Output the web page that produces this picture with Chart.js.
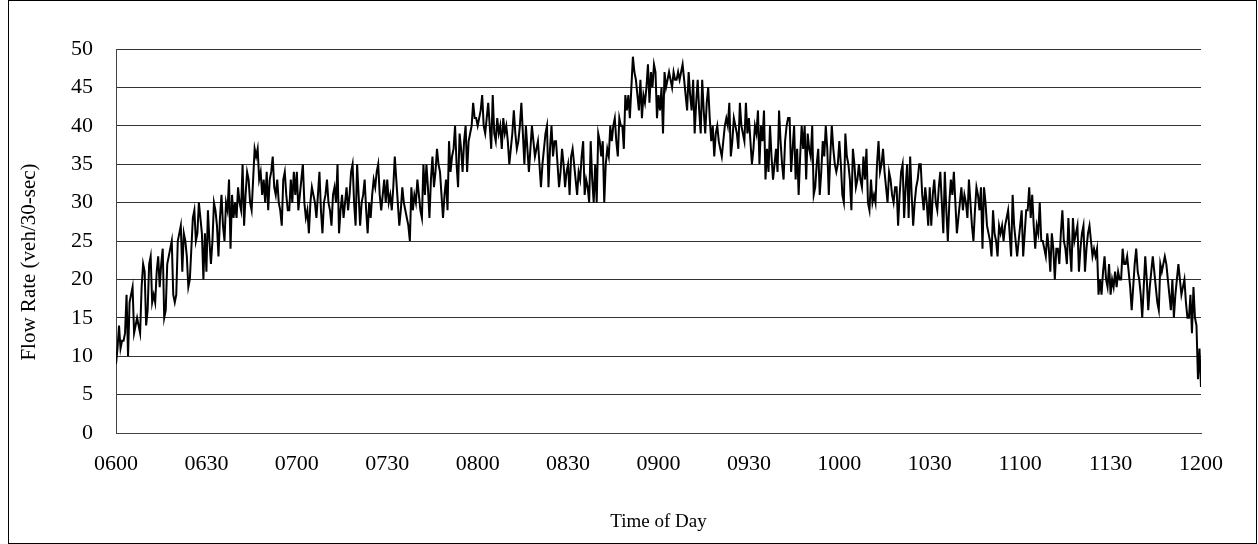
<!DOCTYPE html>
<html>
<head>
<meta charset="utf-8">
<title>Flow Rate</title>
<script src="https://cdn.jsdelivr.net/npm/chart.js@4.4.1/dist/chart.umd.min.js"></script>
<style>
  html, body { margin: 0; padding: 0; background: #fff; }
  #wrap { width: 1258px; height: 544px; position: relative; }
</style>
</head>
<body>
<div id="wrap"><canvas id="flowChart" width="1258" height="544"></canvas></div>
<script>
// tick labels for the time axis (every 30 min = 60 samples)
const timeLabels = ['0600', '0630', '0700', '0730', '0800', '0830', '0900',
                    '0930', '1000', '1030', '1100', '1130', '1200'];
const yTicks = [0, 5, 10, 15, 20, 25, 30, 35, 40, 45, 50];
const yTitle = 'Flow Rate (veh/30-sec)';

// flow rate, veh per 30-sec, one value per 30 s from 0600 to 1200
const flow0600 = [
  9, 11, 14, 11, 12, 12, 13, 18, 10, 17, 18, 19, 13, 14, 15, 14, 13, 19, 22, 21,
  14, 16, 22, 23, 17, 18, 17, 21, 23, 19, 22, 24, 15, 16, 22, 23, 24, 25, 18, 17,
  18, 25, 26, 27, 21, 26, 25, 23, 19, 20, 24, 28, 29, 25, 26, 30, 28, 26, 20, 26
];
const flow0630 = [
  21, 29, 25, 22, 25, 30, 29, 27, 23, 28, 31, 27, 25, 30, 29, 33, 24, 31, 28, 30,
  28, 32, 30, 29, 35, 27, 31, 34, 33, 30, 29, 33, 37, 36, 37, 33, 34, 31, 33, 30,
  34, 29, 33, 34, 36, 32, 31, 33, 30, 29, 27, 33, 34, 31, 29, 29, 33, 30, 34, 31
];
const flow0700 = [
  34, 29, 31, 33, 35, 30, 28, 29, 26, 30, 32, 31, 30, 28, 31, 34, 29, 26, 30, 31,
  33, 30, 29, 27, 31, 32, 30, 35, 26, 29, 31, 28, 30, 32, 29, 31, 34, 35, 30, 27,
  35, 31, 27, 30, 31, 33, 29, 26, 30, 28, 31, 33, 32, 34, 35, 31, 29, 31, 33, 30
];
const flow0730 = [
  33, 30, 31, 29, 32, 36, 33, 30, 27, 29, 32, 30, 29, 28, 27, 25, 32, 29, 31, 30,
  33, 31, 29, 28, 35, 31, 35, 32, 28, 33, 36, 32, 34, 37, 35, 34, 31, 28, 31, 33,
  29, 38, 34, 36, 37, 40, 35, 32, 39, 37, 34, 38, 40, 34, 38, 39, 40, 43, 41, 41
];
const flow0800 = [
  40, 41, 42, 44, 40, 39, 41, 43, 40, 37, 44, 39, 38, 41, 39, 40, 37, 41, 39, 40,
  38, 35, 37, 39, 42, 39, 37, 38, 40, 43, 39, 35, 40, 37, 34, 37, 40, 38, 36, 37,
  38, 35, 32, 35, 37, 39, 40, 32, 37, 40, 36, 38, 38, 35, 32, 34, 37, 35, 32, 34
];
const flow0830 = [
  35, 31, 36, 37, 35, 33, 31, 34, 33, 36, 38, 31, 33, 32, 30, 38, 33, 30, 35, 30,
  39, 38, 36, 38, 30, 35, 37, 36, 40, 38, 40, 41, 38, 36, 41, 40, 40, 37, 44, 42,
  44, 41, 45, 49, 47, 46, 44, 42, 46, 41, 44, 43, 45, 48, 43, 47, 45, 48, 47, 41
];
const flow0900 = [
  44, 42, 45, 39, 47, 45, 46, 47, 46, 45, 47, 46, 46, 47, 46, 47, 48, 46, 44, 42,
  47, 44, 42, 46, 39, 43, 46, 42, 39, 46, 42, 39, 43, 45, 41, 38, 40, 36, 39, 40,
  38, 37, 36, 38, 40, 41, 40, 43, 36, 38, 41, 40, 39, 37, 43, 40, 39, 38, 43, 39
];
const flow0930 = [
  41, 38, 35, 37, 40, 39, 42, 35, 40, 38, 42, 33, 37, 34, 40, 36, 33, 35, 37, 34,
  42, 38, 35, 33, 38, 40, 41, 41, 34, 37, 40, 33, 37, 31, 36, 40, 37, 40, 33, 39,
  37, 36, 40, 31, 32, 35, 37, 31, 34, 38, 36, 40, 37, 31, 36, 40, 37, 35, 34, 35
];
const flow1000 = [
  38, 35, 31, 30, 39, 36, 35, 33, 29, 37, 35, 32, 33, 35, 33, 32, 36, 33, 37, 30,
  29, 33, 30, 31, 30, 35, 38, 34, 35, 37, 34, 32, 30, 34, 33, 31, 30, 32, 32, 27,
  31, 34, 35, 28, 32, 35, 28, 36, 31, 27, 30, 32, 33, 35, 35, 31, 29, 32, 30, 27
];
const flow1030 = [
  32, 27, 31, 33, 30, 29, 32, 34, 30, 26, 34, 29, 25, 30, 33, 31, 34, 30, 26, 28,
  30, 32, 29, 31, 30, 28, 33, 30, 27, 25, 29, 32, 31, 29, 32, 24, 32, 30, 27, 26,
  25, 23, 29, 26, 25, 23, 27, 26, 27, 25, 27, 28, 29, 26, 23, 31, 27, 25, 23, 25
];
const flow1100 = [
  27, 29, 23, 26, 29, 29, 32, 28, 31, 27, 24, 27, 26, 30, 25, 25, 24, 23, 26, 24,
  21, 26, 24, 20, 24, 24, 22, 26, 29, 25, 24, 22, 28, 24, 21, 28, 25, 26, 27, 21,
  24, 26, 27, 21, 24, 26, 27, 25, 23, 24, 23, 24, 18, 20, 18, 21, 23, 20, 19, 22
];
const flow1130 = [
  18, 20, 19, 21, 19, 21, 20, 20, 24, 22, 22, 23, 21, 19, 16, 19, 22, 24, 21, 20,
  18, 15, 19, 23, 20, 16, 19, 21, 23, 21, 19, 17, 16, 22, 21, 22, 23, 22, 20, 18,
  16, 20, 15, 18, 20, 22, 20, 18, 19, 20, 17, 15, 15, 18, 13, 19, 15, 14, 7, 11,
  6
];

const flowRate = [].concat(flow0600, flow0630, flow0700, flow0730, flow0800, flow0830,
  flow0900, flow0930, flow1000, flow1030, flow1100, flow1130);

const serif = "'Liberation Serif', 'DejaVu Serif', serif";

// outer frame round the whole chart, plus the value-axis title
// (drawn here because it sits a bit below the plot's middle)
const framePlugin = {
  id: 'frame',
  beforeDraw(chart) {
    const c = chart.ctx;
    c.save();
    c.fillStyle = '#fff';
    c.fillRect(0, 0, chart.width, chart.height);
    c.strokeStyle = '#000';
    c.lineWidth = 1;
    c.strokeRect(8.5, 0.5, 1248, 543);
    c.restore();
  },
  afterDraw(chart) {
    const c = chart.ctx;
    c.save();
    c.translate(29, 262);
    c.rotate(-Math.PI / 2);
    c.fillStyle = '#000';
    c.font = '21px ' + serif;
    c.textAlign = 'center';
    c.textBaseline = 'middle';
    c.fillText(yTitle, 0, 0);
    c.restore();
  }
};

const ctx = document.getElementById('flowChart').getContext('2d');
const flowChart = new Chart(ctx, {
    type: 'line',
    data: {
        datasets: [{
            label: 'Flow Rate',
            data: flowRate.map((v, i) => ({ x: i, y: v })),
            borderColor: '#000',
            borderWidth: 2,
            pointRadius: 0,
            tension: 0,
            fill: false
        }]
    },
    options: {
        responsive: false,
        animation: false,
        layout: { padding: { left: 10, right: 57, top: 49, bottom: 0 } },
        plugins: {
            legend: { display: false },
            tooltip: { enabled: false }
        },
        scales: {
            x: {
                type: 'linear',
                min: 0,
                max: 720,
                afterFit: (scale) => { scale.height = 111; },
                grid: { display: false, drawTicks: false },
                border: { display: true, color: '#444', width: 1 },
                ticks: {
                    stepSize: 60,
                    autoSkip: false,
                    maxRotation: 0,
                    padding: 18,
                    color: '#000',
                    font: { family: serif, size: 22 },
                    callback: (v) => timeLabels[v / 60]
                },
                title: {
                    display: true,
                    text: 'Time of Day',
                    color: '#000',
                    font: { family: serif, size: 19 },
                    padding: { top: 0, bottom: 11 }
                }
            },
            y: {
                min: 0,
                max: 50,
                afterFit: (scale) => { scale.width = 106; },
                afterBuildTicks: (scale) => { scale.ticks = yTicks.map(v => ({ value: v })); },
                grid: { color: '#333', lineWidth: 1, drawTicks: false },
                border: { display: true, color: '#444', width: 1 },
                ticks: {
                    padding: 23,
                    color: '#000',
                    font: { family: serif, size: 22 }
                }
            }
        }
    },
    plugins: [framePlugin]
});
</script>
</body>
</html>
